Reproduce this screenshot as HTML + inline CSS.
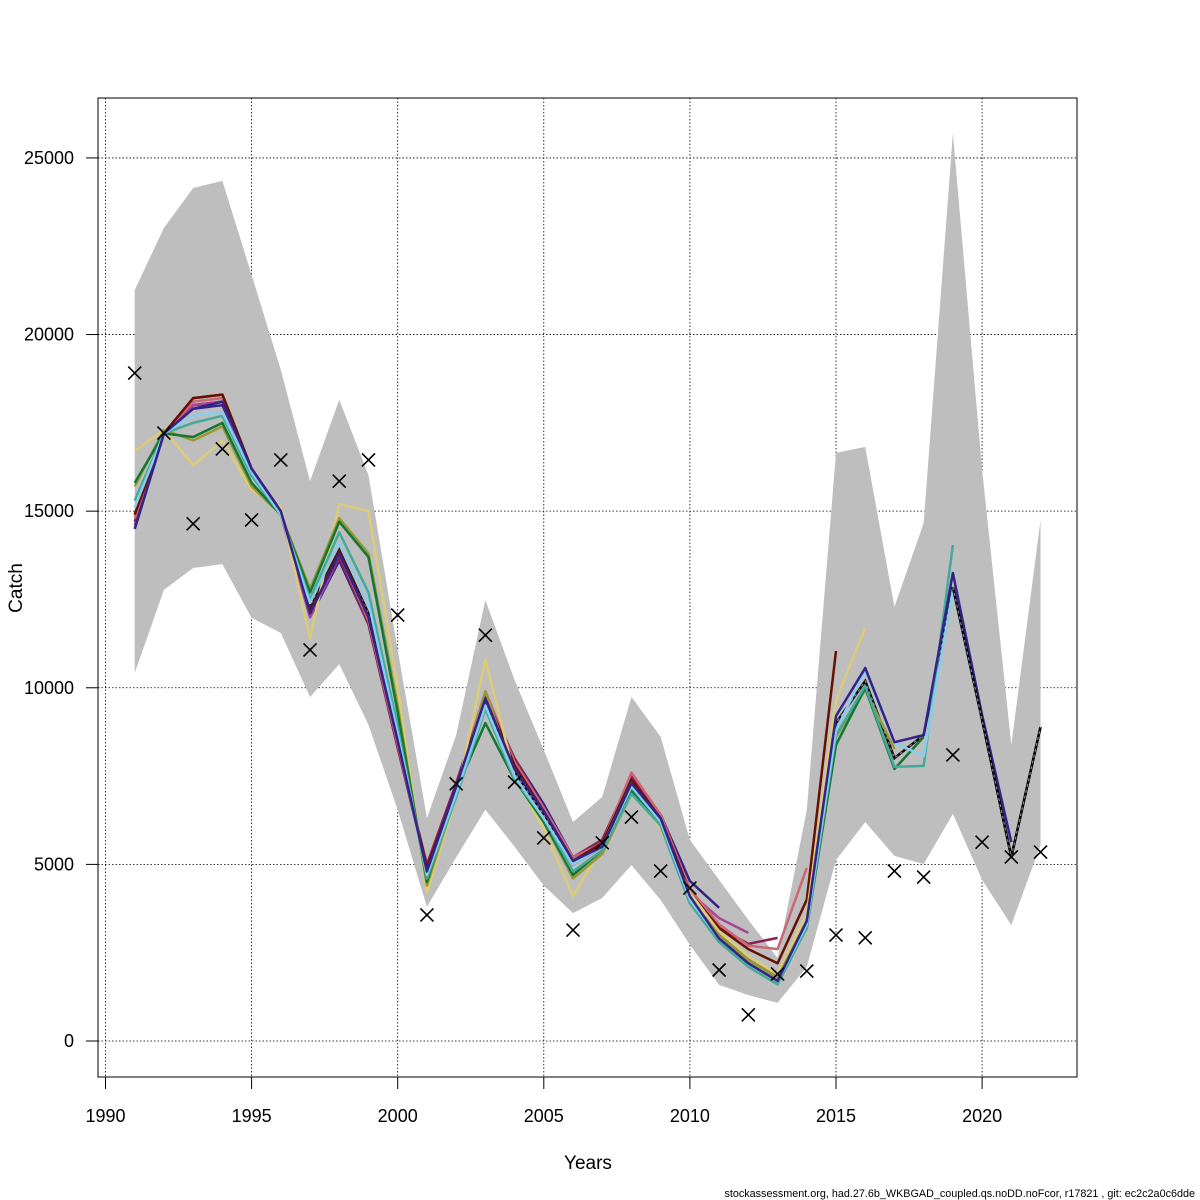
<!DOCTYPE html>
<html><head><meta charset="utf-8"><style>
body{margin:0;background:#fff}
svg{display:block}
text{font-family:"Liberation Sans",sans-serif;fill:#000}
</style></head><body>
<svg id="chart" width="1200" height="1200" viewBox="0 0 1200 1200" xmlns="http://www.w3.org/2000/svg">
<g id="grid"></g>
<g id="band"></g>
<g id="lines"></g>
<g id="obs"></g>
<g id="axes"></g>
<rect x="98" y="98" width="979" height="979" fill="none" stroke="#000" stroke-width="1"/>
<text x="588" y="1169" font-size="19" text-anchor="middle">Years</text>
<text x="0" y="0" font-size="19" text-anchor="middle" transform="translate(22,588) rotate(-90)">Catch</text>
<text x="1195" y="1197" font-size="10.8" text-anchor="end">stockassessment.org, had.27.6b_WKBGAD_coupled.qs.noDD.noFcor, r17821 , git: ec2c2a0c6dde</text>
</svg>
<script>
const years=[1991,1992,1993,1994,1995,1996,1997,1998,1999,2000,2001,2002,2003,2004,2005,2006,2007,2008,2009,2010,2011,2012,2013,2014,2015,2016,2017,2018,2019,2020,2021,2022];
const xTicks=[1990,1995,2000,2005,2010,2015,2020];
const yTicks=[0,5000,10000,15000,20000,25000];
const bandHigh=[21260,23020,24150,24350,21690,19000,15850,18150,16020,11070,6310,8660,12480,10220,8240,6200,6910,9740,8610,5690,4560,3430,2350,6540,16650,16820,12290,14660,25700,16170,8380,14750];
const bandLow=[10420,12770,13390,13500,11980,11550,9740,10670,8950,6540,3800,5200,6550,5500,4400,3620,4050,4980,3990,2720,1590,1300,1080,2100,5120,6200,5240,5010,6430,4560,3280,5550];
const observed=[18910,17210,14640,16760,14750,16450,11070,15850,16450,12060,3570,7280,11490,7330,5750,3140,5610,6340,4810,4330,2010,740,1900,1980,3000,2920,4810,4640,8100,5630,5210,5350];
const peel2011=[14500,17200,17900,18000,16200,15000,12000,13600,11800,8300,4900,7200,9600,8000,6700,5200,5600,7300,6400,4530,3770];
const peel2012=[14600,17200,18000,18100,16100,14900,12000,13700,11900,8400,4900,7200,9700,7900,6600,5200,5600,7400,6400,4200,3480,3060];
const peel2013=[14700,17200,18200,18300,16200,15000,12200,13700,11800,8300,5000,7300,9800,8000,6600,5200,5700,7500,6400,4300,3200,2750,2920];
const peel2014=[14800,17200,18100,18200,16100,14900,12100,13800,11900,8400,4900,7200,9900,7900,6600,5200,5600,7600,6400,4300,3300,2700,2600,4900];
const peel2015=[14900,17200,18200,18300,16200,15000,12200,13900,12000,8500,4900,7200,9800,7800,6500,5100,5600,7400,6300,4200,3200,2600,2200,4000,11040];
const peel2016=[16700,17300,16300,17000,15600,15100,11400,15200,15000,10000,4200,6900,10800,7500,6000,4100,5500,7300,6000,4200,3100,2400,1900,3600,9650,11690];
const peel2017=[15700,17300,17000,17400,15700,14900,12800,14800,13800,9500,4400,7000,9900,7500,6200,4600,5300,7000,6100,4000,3000,2300,1800,3400,8610,9940,8270];
const peel2018=[15800,17200,17100,17500,15800,14900,12700,14700,13700,9300,4500,7100,9000,7400,6200,4700,5400,7100,6100,3900,2900,2200,1700,3200,8380,10000,7700,8610];
const peel2019=[15300,17200,17500,17700,16000,14900,12500,14400,12700,8900,4600,6900,9400,7400,6300,4800,5400,7000,6100,3900,2800,2100,1600,3200,8660,10050,7760,7790,14040];
const peel2020=[15100,17200,17700,17800,16100,14900,12400,14100,12400,8700,4700,7000,9500,7500,6300,5000,5500,7200,6200,4000,2900,2200,1700,3300,8800,10500,8440,8070,12770,9090];
const peel2021=[14500,17200,17900,18100,16200,15000,12100,13800,12000,8500,4800,7200,9700,7700,6500,5100,5500,7300,6300,4100,2900,2200,1700,3400,9200,10560,8460,8660,13250,9230,5630];
const baseRun=[14900,17200,18000,18100,16100,14900,12300,13900,12100,8600,4800,7100,9600,7600,6400,5000,5500,7300,6200,4000,3000,2300,1800,3300,9000,10190,8010,8660,12850,9090,5210,8890];

const NS="http://www.w3.org/2000/svg";
function X(yr){return 105.5+(yr-1990)*29.22;}
function Y(v){return 1041-v*0.035323;}
function mk(tag,attrs,parent){const e=document.createElementNS(NS,tag);for(const k in attrs)e.setAttribute(k,attrs[k]);parent.appendChild(e);return e;}
const grid=document.getElementById('grid'),axes=document.getElementById('axes');
xTicks.forEach(t=>{
  const l=mk('line',{x1:X(t),x2:X(t),y1:98,y2:1077,stroke:'#000','stroke-width':0.8,'stroke-dasharray':'1.5,2'},grid);
  
  
  const tk=mk('line',{x1:X(t),x2:X(t),y1:1077,y2:1089,stroke:'#000'},axes);
  
  
  const tx=mk('text',{x:X(t),y:1122,'font-size':18,'text-anchor':'middle'},axes);tx.textContent=t;
  
  
});
yTicks.forEach(t=>{
  const l=mk('line',{x1:98,x2:1077,y1:Y(t),y2:Y(t),stroke:'#000','stroke-width':0.8,'stroke-dasharray':'1.5,2'},grid);
  
  
  const tk=mk('line',{x1:86,x2:98,y1:Y(t),y2:Y(t),stroke:'#000'},axes);
  
  
  const tx=mk('text',{x:74,y:Y(t)+6,'font-size':18,'text-anchor':'end'},axes);tx.textContent=t;
  
  
});
const bx=mk('line',{x1:X(1990),x2:X(2020),y1:1077,y2:1077,stroke:'#000'},axes);


let pts=years.map((yr,i)=>X(yr)+','+Y(bandHigh[i]));
pts=pts.concat(years.map((yr,i)=>X(yr)+','+Y(bandLow[i])).reverse());
const poly=mk('polygon',{points:pts.join(' '),fill:'#bebebe',stroke:'none'},document.getElementById('band'));


const lg=document.getElementById('lines');
const bp=baseRun.map((v,i)=>X(years[i])+','+Y(v)).join(' ');
const b1=mk('polyline',{points:bp,fill:'none',stroke:'#000','stroke-width':2.5},lg);


const b2=mk('polyline',{points:bp,fill:'none',stroke:'#888','stroke-width':1.2,'stroke-dasharray':'3,3'},lg);


const series=[
 [peel2011,'#332288','peel-2011'],[peel2012,'#AA4499','peel-2012'],[peel2013,'#882255','peel-2013'],
 [peel2014,'#CC6677','peel-2014'],[peel2015,'#661100','peel-2015'],[peel2016,'#DDCC77','peel-2016'],
 [peel2017,'#999933','peel-2017'],[peel2018,'#117733','peel-2018'],[peel2019,'#44AA99','peel-2019'],
 [peel2020,'#88CCEE','peel-2020'],[peel2021,'#332288','peel-2021']];
series.forEach(s=>{
  const p=mk('polyline',{points:s[0].map((v,i)=>X(years[i])+','+Y(v)).join(' '),fill:'none',stroke:s[1],'stroke-width':2.5,'stroke-linejoin':'round'},lg);
  
  
});
const tail=baseRun.slice(28).map((v,i)=>X(years[i+28])+','+Y(v)).join(' ');
const b3=mk('polyline',{points:tail,fill:'none',stroke:'#000','stroke-width':2.5},lg);


const b4=mk('polyline',{points:tail,fill:'none',stroke:'#888','stroke-width':1.2,'stroke-dasharray':'3,3'},lg);


const og=document.getElementById('obs');
observed.forEach((v,i)=>{
  const x=X(years[i]),y=Y(v),d=6.5;
  const p=mk('path',{d:`M${x-d},${y-d}L${x+d},${y+d}M${x-d},${y+d}L${x+d},${y-d}`,stroke:'#000','stroke-width':1.6,fill:'none'},og);
  
  
});
</script>
</body></html>
